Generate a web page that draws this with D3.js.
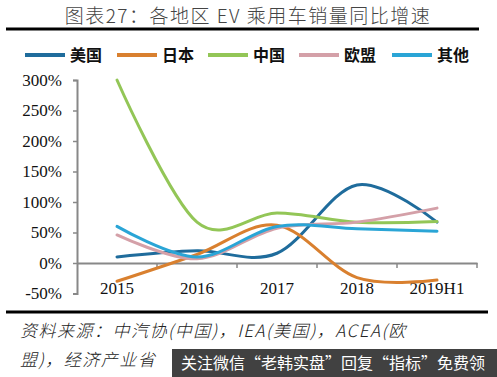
<!DOCTYPE html>
<html>
<head>
<meta charset="utf-8">
<script src="https://cdn.jsdelivr.net/npm/d3@7"></script>
<style>
  body { margin: 0; background: #fff; }
  svg { display: block; }
</style>
</head>
<body>
<svg id="chart" width="497" height="377"></svg>
<script>
const categories = ['2015', '2016', '2017', '2018', '2019H1'];
const seriesNames = ['美国', '日本', '中国', '欧盟', '其他'];
const usa = [10, 20, 16, 128, 67];
const japan = [-30, 14, 62, -24, -28];
const china = [300, 67, 82, 67, 68];
const eu = [46, 7, 57, 67, 90];
const others = [60, 10, 60, 56, 52];
const yTicks = [-50, 0, 50, 100, 150, 200, 250, 300];

const colors = ['#1f6c9c', '#d9802f', '#93c657', '#d4a0a8', '#2aa5d6'];
const allSeries = [usa, japan, china, eu, others];

const svg = d3.select('#chart');

// title + rules
svg.append('text')
  .attr('x', 248).attr('y', 23)
  .attr('text-anchor', 'middle')
  .style('font-family', '"Noto Sans CJK SC", serif')
  .style('font-size', '19px')
  .style('font-weight', 300)
  .style('letter-spacing', '1.5px')
  .attr('fill', '#444')
  .text('图表27：各地区 EV 乘用车销量同比增速');

svg.append('line').attr('x1', 6).attr('x2', 479).attr('y1', 29).attr('y2', 29)
  .attr('stroke', '#000').attr('stroke-width', 3);
svg.append('line').attr('x1', 6).attr('x2', 488).attr('y1', 312).attr('y2', 312)
  .attr('stroke', '#000').attr('stroke-width', 3);

const x = d3.scaleBand().domain(categories).range([77, 477]);
const y = d3.scaleLinear().domain([-50, 300]).range([293.5, 80]);

// y axis
const yAxis = svg.append('g')
  .attr('transform', 'translate(77,0)')
  .call(d3.axisLeft(y).tickValues(yTicks).tickSize(4).tickFormat(d => d + '%'));
yAxis.select('.domain').attr('stroke', '#888').attr('stroke-width', 2);
yAxis.selectAll('.tick line').attr('stroke', '#888').attr('stroke-width', 1.5);
yAxis.selectAll('.tick text')
  .attr('x', -15)
  .style('font-family', '"Liberation Serif", "Times New Roman", serif')
  .style('font-size', '17px')
  .attr('fill', '#111');

// x axis at 0
const xAxis = svg.append('g')
  .attr('transform', `translate(0,${y(0)})`)
  .call(d3.axisBottom(x).tickSize(0).tickSizeOuter(0));
xAxis.select('.domain').attr('stroke', '#888').attr('stroke-width', 2);
xAxis.selectAll('.tick text')
  .attr('y', y(-50) - y(0) - 12)
  .style('font-family', '"Liberation Serif", "Times New Roman", serif')
  .style('font-size', '17px')
  .attr('fill', '#111');
// category boundary ticks
svg.append('g').selectAll('line')
  .data(categories)
  .join('line')
  .attr('x1', (d, i) => x(d) + x.bandwidth())
  .attr('x2', (d, i) => x(d) + x.bandwidth())
  .attr('y1', y(0)).attr('y2', y(0) + 5)
  .attr('stroke', '#888').attr('stroke-width', 1.5);

// lines
const line = d3.line()
  .curve(d3.curveCatmullRom.alpha(0))
  .x((d, i) => x(categories[i]) + x.bandwidth() / 2)
  .y(d => y(d));

svg.append('g').selectAll('path')
  .data(allSeries)
  .join('path')
  .attr('d', line)
  .attr('fill', 'none')
  .attr('stroke', (d, i) => colors[i])
  .attr('stroke-width', 3)
  .attr('stroke-linecap', 'round');

// legend
const legendX = [25, 117, 208, 299, 392];
const legend = svg.append('g').selectAll('g')
  .data(seriesNames)
  .join('g')
  .attr('transform', (d, i) => `translate(${legendX[i]},55)`);
legend.append('line')
  .attr('x1', 0).attr('x2', 40)
  .attr('stroke', (d, i) => colors[i]).attr('stroke-width', 4);
legend.append('text')
  .attr('x', 45).attr('y', 6)
  .style('font-family', '"Noto Sans CJK SC", sans-serif')
  .style('font-size', '16px')
  .style('font-weight', 'bold')
  .attr('fill', '#111')
  .text(d => d);

// source note
const note = svg.append('g')
  .style('font-family', '"Noto Sans CJK SC", sans-serif')
  .style('font-size', '17px')
  .style('font-style', 'italic')
  .style('font-weight', 300)
  .style('letter-spacing', '1.5px')
  .attr('fill', '#222');
note.append('text').attr('x', 20).attr('y', 337)
  .text('资料来源：中汽协(中国)，IEA(美国)，ACEA(欧');
note.append('text').attr('x', 20).attr('y', 366)
  .text('盟)，经济产业省');

// watermark banner
svg.append('rect')
  .attr('x', 172).attr('y', 349).attr('width', 325).attr('height', 28)
  .attr('fill', '#333').attr('opacity', 0.93);
svg.append('text')
  .attr('x', 181).attr('y', 369)
  .style('font-family', '"Noto Sans CJK SC", sans-serif')
  .style('font-size', '16px')
  .attr('fill', '#fff')
  .text('关注微信“老韩实盘”回复“指标”免费领');
</script>
</body>
</html>
